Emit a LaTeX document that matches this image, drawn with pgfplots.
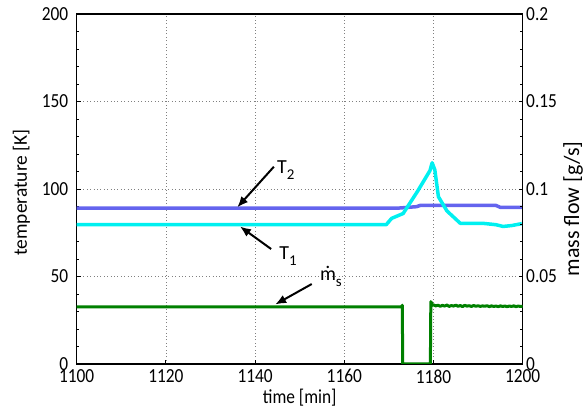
\documentclass[border=0pt]{standalone}
\usepackage{fontspec}
\setmainfont{Carlito}[FakeStretch=0.87]
\newfontfamily\plainfont{Carlito}
\usepackage{pgfplots}
\pgfplotsset{compat=1.18}
\usetikzlibrary{arrows.meta}

\definecolor{ttwo}{RGB}{100,100,238}
\definecolor{tone}{RGB}{0,240,240}
\definecolor{mflow}{RGB}{0,128,0}

\newcommand\lbl{\plainfont\fontsize{20}{24}\selectfont}
\newcommand\sub[1]{\raisebox{-6bp}{\fontsize{15}{15}\selectfont #1}}

\pgfplotsset{
  base/.style={
    scale only axis, width=446bp, height=350bp,
    xmin=1100, xmax=1200,
    axis line style={line width=1.2bp},
    tick style={black, line width=0.8bp},
    major tick length=4bp, minor tick length=2.5bp,
    tick align=inside,
    /pgf/number format/assume math mode=true,
    /pgf/number format/1000 sep={},
    ticklabel style={font=\fontsize{20}{24}\selectfont},
  }
}

\begin{document}
\begin{tikzpicture}
\begin{axis}[base, name=ax,
    ymin=0, ymax=200,
    ytick={0,50,100,150,200}, minor y tick num=4,
    xtick={1100,1120,1140,1160,1180,1200},
    ytick pos=left, xtick pos=bottom,
    yticklabel style={xshift=-5bp},
    xticklabel style={yshift=-2bp},
    grid=major,
    grid style={dash pattern=on 0.8bp off 2.6bp, gray, line width=0.7bp},
    xlabel={time [min]},
    ylabel={temperature [K]},
    xlabel style={font=\fontsize{20}{24}\selectfont,
      at={(axis description cs:0.5,-0.097)}, anchor=center},
    ylabel style={font=\plainfont\fontsize{19.5}{23}\selectfont,
      at={(axis description cs:-0.124,0.49)}, anchor=center},
  ]
  % T2
  \addplot[ttwo, line width=3.5bp] coordinates {
    (1100,89.0) (1171.7,89.0) (1176.2,89.9) (1177.0,90.6)
    (1194.0,90.6) (1195.0,89.5) (1200,89.5)
  };
  % T1
  \addplot[tone, line width=3.5bp, line join=round] coordinates {
    (1100,79.6) (1169.4,79.6) (1170.6,83.2) (1173.2,86.0)
    (1176.5,99.0) (1179.2,110.5) (1179.7,115.0) (1180.3,110.9)
    (1181.1,95.6) (1183.0,87.5) (1186.0,80.4) (1191.0,80.4)
    (1194.0,79.6) (1195.6,78.6) (1197.5,79.1) (1199.8,80.2)
  };
  \draw[-{Latex[length=11bp,width=9bp]}, line width=2bp]
    (axis cs:1144.2,112.7) -- (axis cs:1136.0,89.5);
  \node[font=\lbl] at (axis cs:1146.9,110.9) {T\sub{2}};
  \draw[-{Latex[length=11bp,width=9bp]}, line width=2bp]
    (axis cs:1143.6,65.7) -- (axis cs:1136.6,78.6);
  \node[font=\lbl] at (axis cs:1147.4,61.4) {T\sub{1}};
  \draw[-{Latex[length=11bp,width=9bp]}, line width=2bp]
    (axis cs:1152.7,45.7) -- (axis cs:1144.5,34.0);
  \node[font=\lbl] at (axis cs:1157,48.6)
    {{\ooalign{m\cr\hidewidth\raisebox{0.62em}{.}\hidewidth\cr}}\sub{s}};
\end{axis}

\begin{axis}[base,
    ymin=0, ymax=0.2,
    ytick={0,0.05,0.1,0.15,0.2}, minor y tick num=4,
    scaled y ticks=false,
    yticklabel style={/pgf/number format/fixed, /pgf/number format/precision=2},
    axis y line*=right, axis x line=none,
    ylabel={mass flow [g/s]},
    ylabel style={font=\plainfont\fontsize{22}{26}\selectfont,
      at={(axis description cs:1.113,0.443)}, anchor=center},
  ]
  \addplot[mflow, line width=3bp, line join=round] coordinates {
    (1100,0.0327) (1172.9,0.0327) (1173.0,0.0336) (1173.1,0) (1179.3,0)
    (1179.4,0.0356) (1179.8,0.0335)
    (1180.0,0.0338) (1180.5,0.0332) (1181.0,0.0336) (1181.5,0.0330)
    (1182.0,0.0335) (1182.5,0.0331) (1183.0,0.0337) (1183.5,0.0329)
    (1184.0,0.0334) (1184.5,0.0331) (1185.0,0.0336) (1185.5,0.0330)
    (1186.0,0.0334) (1186.5,0.0328) (1187.0,0.0335) (1187.5,0.0331)
    (1188.0,0.0333) (1188.5,0.0329) (1189.0,0.0334) (1189.5,0.0330)
    (1190.0,0.0333) (1190.5,0.0329) (1191.0,0.0332) (1191.5,0.0330)
    (1192.0,0.0333) (1192.5,0.0328) (1193.0,0.0332) (1193.5,0.0329)
    (1194.0,0.0331) (1194.5,0.0328) (1195.0,0.0332) (1195.5,0.0329)
    (1196.0,0.0331) (1196.5,0.0328) (1197.0,0.0331) (1197.5,0.0329)
    (1198.0,0.0332) (1198.5,0.0328) (1199.0,0.0331) (1199.5,0.0329)
    (1200.0,0.0330)
  };
\end{axis}
\pgfresetboundingbox
\path ([shift={(-76.7bp,-48bp)}]ax.south west) rectangle ([shift={(61.3bp,14bp)}]ax.north east);
\end{tikzpicture}
\end{document}
